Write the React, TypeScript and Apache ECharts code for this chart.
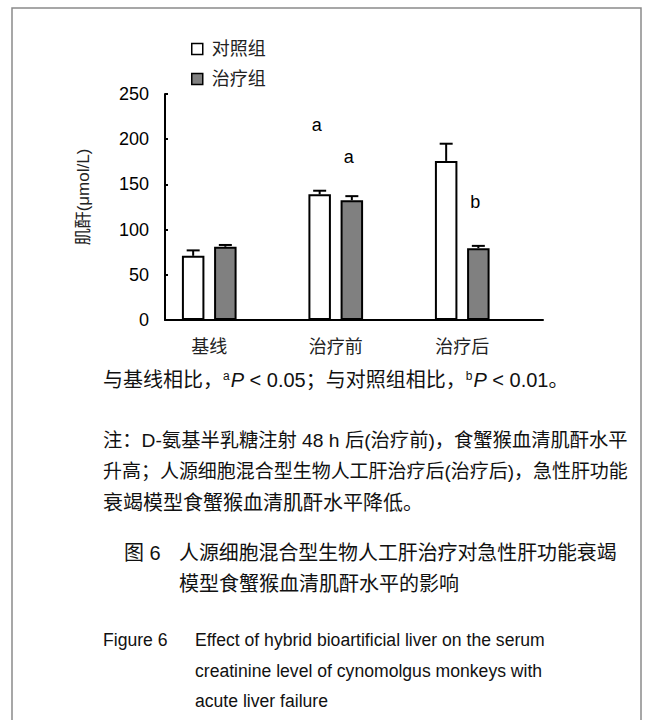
import React, { useEffect, useRef } from "react";
import * as echarts from "echarts";

const categories = ["基线", "治疗前", "治疗后"];
const seriesNames = ["对照组", "治疗组"];
const controlMean = [71, 139, 176];
const controlErr = [6, 4, 19];
const treatMean = [81, 132.5, 79.5];
const treatErr = [2, 4.5, 2.5];
const yMin = 0;
const yMax = 250;
const yInterval = 50;
const yAxisName = "肌酐(μmol/L)";

// significance letters: category index, group (0 control / 1 treatment), value height, text
const annotCat = [1, 1, 2];
const annotGroup = [0, 1, 1];
const annotValue = [216, 180, 130];
const annotText = ["a", "a", "b"];

const pLine = "与基线相比，{sup|a}{it|P}{lat| < 0.05}；与对照组相比，{sup|b}{it|P}{lat| < 0.01}。";
const noteLines = [
  "注：D-氨基半乳糖注射 48 h 后(治疗前)，食蟹猴血清肌酐水平",
  "升高；人源细胞混合型生物人工肝治疗后(治疗后)，急性肝功能",
  "衰竭模型食蟹猴血清肌酐水平降低。",
];
const noteJustified = [true, true, false];
const cnCaptionLabel = "图 6";
const cnCaptionLines = ["人源细胞混合型生物人工肝治疗对急性肝功能衰竭", "模型食蟹猴血清肌酐水平的影响"];
const cnCaptionJustified = [true, false];
const enCaptionLabel = "Figure 6";
const enCaptionLines = [
  "Effect of hybrid bioartificial liver on the serum",
  "creatinine level of cynomolgus monkeys with",
  "acute liver failure",
];

const LAT = "'Liberation Sans', Arial, 'Noto Sans CJK SC', sans-serif";
const CJK = "'Liberation Sans', 'Noto Sans CJK SC', sans-serif";
const BAR_W = 22.5;
const BAR_GAP = 0.43;
const HALF = (BAR_W + BAR_W * BAR_GAP) / 2;

function fitSize(text: string, base: number, maxWidth: number): number {
  try {
    const c = document.createElement("canvas").getContext("2d");
    if (!c) return base;
    c.font = `${base}px ${CJK}`;
    const w = c.measureText(text).width;
    return w > maxWidth ? (base * maxWidth) / w : base;
  } catch (e) {
    return base;
  }
}

export default function App() {
  const ref = useRef<HTMLDivElement>(null);
  useEffect(() => {
    if (!ref.current) return;
    const chart = echarts.init(ref.current, undefined, { renderer: "svg" });

    const errData = [
      ...controlMean.map((m, i) => [i, m, controlErr[i], 0]),
      ...treatMean.map((m, i) => [i, m, treatErr[i], 1]),
    ];
    const annData = annotText.map((t, i) => [annotCat[i], annotValue[i], annotGroup[i], i]);

    const textColor = "#111";
    const graphics: any[] = [
      {
        type: "rect",
        shape: { x: 12, y: 8, width: 629, height: 740 },
        style: { fill: "none", stroke: "#8a8a8a", lineWidth: 1.5 },
        silent: true,
      },
      {
        type: "text",
        x: 103,
        y: 380,
        style: {
          text: pLine,
          fontSize: 20,
          fontFamily: CJK,
          fill: textColor,
          verticalAlign: "middle",
          rich: {
            sup: { fontSize: 12, fontFamily: LAT, fill: textColor, verticalAlign: "top", padding: [0, 1, 0, 0] },
            it: { fontSize: 20, fontFamily: LAT, fontStyle: "italic", fill: textColor },
            lat: { fontSize: 20, fontFamily: LAT, fill: textColor },
          },
        },
      },
      ...noteLines.map((t, i) => ({
        type: "text",
        x: 103,
        y: 440 + i * 31.5,
        style: {
          text: t,
          fontSize: noteJustified[i] ? fitSize(t, 20, 525) : 20,
          fontFamily: CJK,
          fill: textColor,
          verticalAlign: "middle",
        },
      })),
      {
        type: "text",
        x: 124,
        y: 553,
        style: { text: cnCaptionLabel, fontSize: 20, fontFamily: CJK, fill: textColor, verticalAlign: "middle" },
      },
      ...cnCaptionLines.map((t, i) => ({
        type: "text",
        x: 179,
        y: 553 + i * 31,
        style: {
          text: t,
          fontSize: cnCaptionJustified[i] ? fitSize(t, 20, 438) : 20,
          fontFamily: CJK,
          fill: textColor,
          verticalAlign: "middle",
        },
      })),
      {
        type: "text",
        x: 103,
        y: 640,
        style: { text: enCaptionLabel, fontSize: 17.6, fontFamily: LAT, fill: textColor, verticalAlign: "middle" },
      },
      ...enCaptionLines.map((t, i) => ({
        type: "text",
        x: 195,
        y: 640 + i * 30.5,
        style: { text: t, fontSize: 17.6, fontFamily: LAT, fill: textColor, verticalAlign: "middle" },
      })),
    ];

    chart.setOption({
      animation: false,
      backgroundColor: "#fff",
      legend: {
        data: seriesNames,
        orient: "vertical",
        left: 186,
        top: 35,
        itemWidth: 11,
        itemHeight: 11,
        itemGap: 12,
        icon: "rect",
        itemStyle: { borderWidth: 1.5, borderColor: "#000" },
        textStyle: { fontSize: 18, fontFamily: CJK, color: "#222", padding: [0, 0, 0, 4] },
      },
      grid: [
        { left: 165, top: 94, width: 378, height: 226 },
        { left: 146, top: 94, width: 379.5, height: 226 },
      ],
      xAxis: [
        {
          type: "category",
          gridIndex: 0,
          data: categories,
          axisLine: { lineStyle: { color: "#000", width: 2 } },
          axisTick: { alignWithLabel: true, inside: true, length: 3, lineStyle: { color: "#000", width: 2 } },
          axisLabel: { show: false },
        },
        {
          type: "category",
          gridIndex: 1,
          data: categories,
          axisLine: { show: false },
          axisTick: { show: false },
          axisLabel: { fontSize: 18, fontFamily: CJK, color: "#222", margin: 18 },
        },
      ],
      yAxis: [
        {
          type: "value",
          gridIndex: 0,
          min: yMin,
          max: yMax,
          interval: yInterval,
          name: yAxisName,
          nameLocation: "middle",
          nameRotate: 90,
          nameGap: 73,
          nameTextStyle: { fontSize: 17, fontFamily: CJK, color: "#222", padding: [0, 0, 0, 20] },
          axisLine: { show: true, lineStyle: { color: "#000", width: 2 } },
          axisTick: { show: true, inside: true, length: 3, lineStyle: { color: "#000", width: 2 } },
          axisLabel: { fontSize: 18, fontFamily: LAT, color: "#000", margin: 16 },
          splitLine: { show: false },
        },
        {
          type: "value",
          gridIndex: 1,
          min: yMin,
          max: yMax,
          interval: yInterval,
          show: false,
          splitLine: { show: false },
        },
      ],
      series: [
        {
          name: seriesNames[0],
          type: "bar",
          xAxisIndex: 1,
          yAxisIndex: 1,
          data: controlMean,
          barWidth: BAR_W,
          barGap: BAR_GAP * 100 + "%",
          itemStyle: { color: "#fff", borderColor: "#000", borderWidth: 2 },
        },
        {
          name: seriesNames[1],
          type: "bar",
          xAxisIndex: 1,
          yAxisIndex: 1,
          data: treatMean,
          barWidth: BAR_W,
          barGap: BAR_GAP * 100 + "%",
          itemStyle: { color: "#808080", borderColor: "#000", borderWidth: 2 },
        },
        {
          type: "custom",
          xAxisIndex: 1,
          yAxisIndex: 1,
          data: errData,
          encode: { x: 0, y: 1 },
          z: 5,
          silent: true,
          renderItem: (params: any, api: any) => {
            const cat = api.value(0);
            const mean = api.value(1);
            const err = api.value(2);
            const grp = api.value(3);
            const base = api.coord([cat, mean]);
            const top = api.coord([cat, mean + err]);
            const x = base[0] + (grp === 0 ? -HALF : HALF);
            const st = { stroke: "#000", lineWidth: 2 };
            return {
              type: "group",
              children: [
                { type: "line", shape: { x1: x, y1: base[1], x2: x, y2: top[1] }, style: st },
                { type: "line", shape: { x1: x - 6.5, y1: top[1], x2: x + 6.5, y2: top[1] }, style: st },
              ],
            };
          },
        },
        {
          type: "custom",
          xAxisIndex: 1,
          yAxisIndex: 1,
          data: annData,
          encode: { x: 0, y: 1 },
          z: 6,
          silent: true,
          renderItem: (params: any, api: any) => {
            const cat = api.value(0);
            const val = api.value(1);
            const grp = api.value(2);
            const idx = api.value(3);
            const p = api.coord([cat, val]);
            return {
              type: "text",
              x: p[0] + (grp === 0 ? -HALF : HALF) - 3,
              y: p[1],
              style: {
                text: annotText[idx],
                fontSize: 18,
                fontFamily: LAT,
                fill: "#000",
                align: "center",
                verticalAlign: "middle",
              },
            };
          },
        },
      ],
      graphic: graphics,
    });
    return () => chart.dispose();
  }, []);
  return <div ref={ref} style={{ position: "fixed", left: 0, top: 0, width: 653, height: 720 }} />;
}
